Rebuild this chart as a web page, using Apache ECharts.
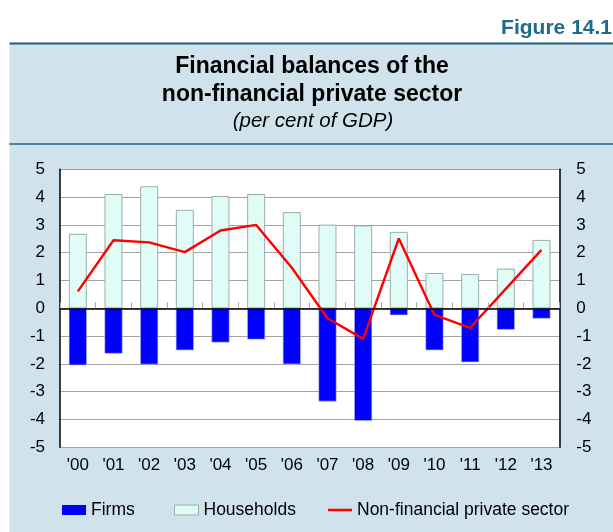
<!DOCTYPE html>
<html>
<head>
<meta charset="utf-8">
<script src="https://cdn.jsdelivr.net/npm/echarts@6/dist/echarts.min.js"></script>
<style>
  html, body { margin: 0; padding: 0; background: #fff; }
  #chart { width: 613px; height: 532px; }
</style>
</head>
<body>
<div id="chart"></div>
<script>
// Financial balances of the non-financial private sector, per cent of GDP
const years = ["'00", "'01", "'02", "'03", "'04", "'05", "'06", "'07", "'08", "'09", "'10", "'11", "'12", "'13"];
const firms = [-2.05, -1.63, -2.02, -1.51, -1.23, -1.12, -2.01, -3.35, -4.05, -0.25, -1.51, -1.94, -0.77, -0.37];
const households = [2.68, 4.11, 4.39, 3.54, 4.04, 4.11, 3.46, 3.01, 2.98, 2.75, 1.27, 1.23, 1.43, 2.46];
const privateSector = [0.61, 2.45, 2.37, 2.02, 2.80, 3.00, 1.46, -0.36, -1.10, 2.51, -0.24, -0.70, 0.70, 2.10];
const yTicks = { min: -5, max: 5, interval: 1 };

const FONT = '"Liberation Sans", Arial, Helvetica, sans-serif';
const BG = '#d0e2eb';
const TEAL = '#1d6a8b';

const chart = echarts.init(document.getElementById('chart'), null, { renderer: 'canvas' });

const axisText = { color: '#000', fontFamily: FONT, fontSize: 17 };
const legendText = { color: '#000', fontFamily: FONT, fontSize: 17.5 };

chart.setOption({
  animation: false,
  backgroundColor: '#fff',
  textStyle: { fontFamily: FONT },
  graphic: [
    { type: 'rect', z: -10, silent: true, shape: { x: 9.5, y: 43, width: 604, height: 489 }, style: { fill: BG } },
    { type: 'line', z: -5, silent: true, shape: { x1: 9.5, y1: 43.5, x2: 613, y2: 43.5 }, style: { stroke: '#1b5f7f', lineWidth: 2 } },
    { type: 'line', z: -5, silent: true, shape: { x1: 9.5, y1: 144, x2: 613, y2: 144 }, style: { stroke: '#1b5f7f', lineWidth: 1.5 } },
    { type: 'text', silent: true, style: { text: 'Figure 14.1', x: 612, y: 28.5, align: 'right', verticalAlign: 'middle', font: 'bold 21px ' + FONT, fill: TEAL } },
    { type: 'text', silent: true, style: { text: 'Financial balances of the', x: 312, y: 67, align: 'center', verticalAlign: 'middle', font: 'bold 23px ' + FONT, fill: '#000' } },
    { type: 'text', silent: true, style: { text: 'non-financial private sector', x: 312, y: 94.5, align: 'center', verticalAlign: 'middle', font: 'bold 23px ' + FONT, fill: '#000' } },
    { type: 'text', silent: true, style: { text: '(per cent of GDP)', x: 313, y: 121.5, align: 'center', verticalAlign: 'middle', font: 'italic 20.5px ' + FONT, fill: '#000' } }
  ],
  legend: [
    {
      data: [{ name: 'Firms', icon: 'rect' }], left: 57, top: 496,
      itemWidth: 24, itemHeight: 10, textStyle: legendText,
      itemStyle: { borderWidth: 0 }
    },
    {
      data: [{ name: 'Households', icon: 'rect' }], left: 169, top: 496,
      itemWidth: 24, itemHeight: 10, textStyle: legendText,
      itemStyle: { borderColor: '#9aaeab', borderWidth: 1 }
    },
    {
      data: [{ name: 'Non-financial private sector', icon: 'rect' }], left: 323, top: 496,
      itemWidth: 24, itemHeight: 2.5, textStyle: legendText,
      itemStyle: { color: '#ff0000', borderWidth: 0 }
    }
  ],
  grid: {
    left: 60, right: 53.7, top: 169.3, bottom: 84.7,
    show: true, backgroundColor: '#fff', borderWidth: 0
  },
  xAxis: [
    {
      type: 'category', data: years, position: 'bottom',
      axisLine: { show: false, onZero: false },
      axisTick: { show: false },
      axisLabel: Object.assign({ margin: 10 }, axisText),
      splitLine: { show: false }
    },
    {
      type: 'category', data: years, position: 'bottom',
      axisLine: { show: true, onZero: true, lineStyle: { color: '#000', width: 1.5 } },
      axisTick: { show: true, inside: true, length: 6, lineStyle: { color: '#aaa', width: 1 } },
      axisLabel: { show: false },
      splitLine: { show: false },
      z: 10
    }
  ],
  yAxis: [
    {
      type: 'value', position: 'left', min: yTicks.min, max: yTicks.max, interval: yTicks.interval,
      axisLine: { show: true, lineStyle: { color: '#000', width: 1.5 } },
      axisTick: { show: false },
      axisLabel: Object.assign({ margin: 15 }, axisText),
      splitLine: { show: true, lineStyle: { color: '#a2a2a2', width: 1 } }
    },
    {
      type: 'value', position: 'right', min: yTicks.min, max: yTicks.max, interval: yTicks.interval,
      axisLine: { show: true, lineStyle: { color: '#000', width: 1.5 } },
      axisTick: { show: false },
      axisLabel: Object.assign({ margin: 17 }, axisText),
      splitLine: { show: false }
    }
  ],
  series: [
    {
      name: 'Firms', type: 'bar', data: firms, xAxisIndex: 0, yAxisIndex: 0,
      barWidth: 18, barGap: '-100%',
      itemStyle: { color: '#0000ff', borderColor: '#b7c3d6', borderWidth: 0.6 }
    },
    {
      name: 'Households', type: 'bar', data: households, xAxisIndex: 0, yAxisIndex: 0,
      barWidth: 18, barGap: '-100%',
      itemStyle: { color: '#e0fcf6', borderColor: '#9aaeab', borderWidth: 1 }
    },
    {
      name: 'Non-financial private sector', type: 'line', data: privateSector, xAxisIndex: 0, yAxisIndex: 0,
      symbol: 'none', z: 5,
      lineStyle: { color: '#ff0000', width: 2.4 },
      itemStyle: { color: '#ff0000' }
    }
  ]
});
</script>
</body>
</html>
